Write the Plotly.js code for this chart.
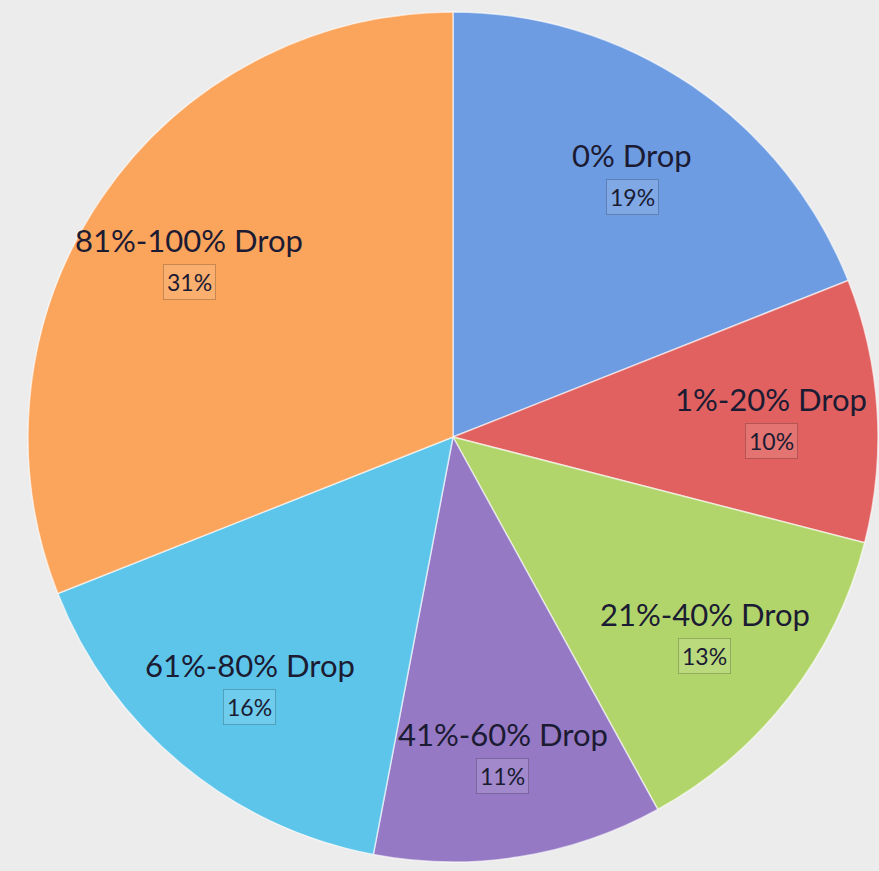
<!DOCTYPE html>
<html>
<head>
<meta charset="utf-8">
<script src="https://cdn.plot.ly/plotly-3.0.1.min.js"></script>
<style>html,body{margin:0;padding:0;background:#ececec;}#chart{width:879px;height:871px;}</style>
</head>
<body>
<div id="chart"></div>
<script>
var categories = ["0% Drop", "1%-20% Drop", "21%-40% Drop", "41%-60% Drop", "61%-80% Drop", "81%-100% Drop"];
var shares = [19, 10, 13, 11, 16, 31];
var sliceColors = ["#6e9ce2", "#e0615f", "#b2d56b", "#9579c4", "#5dc5ea", "#fba45c"];

var W = 879, H = 871;
var dom = {x: [28/879, 878/879], y: [9/871, 859/871]};

var trace = {
  type: "pie",
  labels: categories,
  values: shares,
  sort: false,
  direction: "clockwise",
  rotation: 0,
  marker: {colors: sliceColors, line: {color: "rgba(255,255,255,0.6)", width: 1.5}},
  textinfo: "none",
  hoverinfo: "label+percent",
  domain: dom
};

// label placement derived from the data: mid-angle of each slice
var cx = (dom.x[0] + dom.x[1]) / 2 * W;
var cy = H - (dom.y[0] + dom.y[1]) / 2 * H;
var R = Math.min((dom.x[1] - dom.x[0]) * W, (dom.y[1] - dom.y[0]) * H) / 2;
var total = shares.reduce(function (a, b) { return a + b; }, 0);
var annotations = [];
var cum = 0;
var font = "Lato, 'Open Sans', sans-serif";
for (var i = 0; i < shares.length; i++) {
  var mid = (cum + shares[i] / 2) / total * 2 * Math.PI;
  cum += shares[i];
  var px = cx + 0.75 * R * Math.sin(mid);
  var py = cy - 0.75 * R * Math.cos(mid);
  annotations.push({
    xref: "paper", yref: "paper", x: px / W, y: 1 - (py - 18) / H,
    xanchor: "center", yanchor: "middle",
    text: categories[i], showarrow: false,
    font: {family: font, size: 31, color: "#1b1b33"}
  });
  annotations.push({
    xref: "paper", yref: "paper", x: px / W, y: 1 - (py + 24) / H,
    xanchor: "center", yanchor: "middle",
    text: shares[i] + "%", showarrow: false,
    font: {family: font, size: 23, color: "#1b1b33"},
    bgcolor: "rgba(255,255,255,0.12)",
    bordercolor: "rgba(0,0,0,0.2)", borderwidth: 1, borderpad: 3
  });
}

Plotly.newPlot("chart", [trace], {
  width: W, height: H,
  margin: {l: 0, r: 0, t: 0, b: 0},
  paper_bgcolor: "#ececec",
  showlegend: false,
  annotations: annotations
}, {displayModeBar: false});
</script>
</body>
</html>
